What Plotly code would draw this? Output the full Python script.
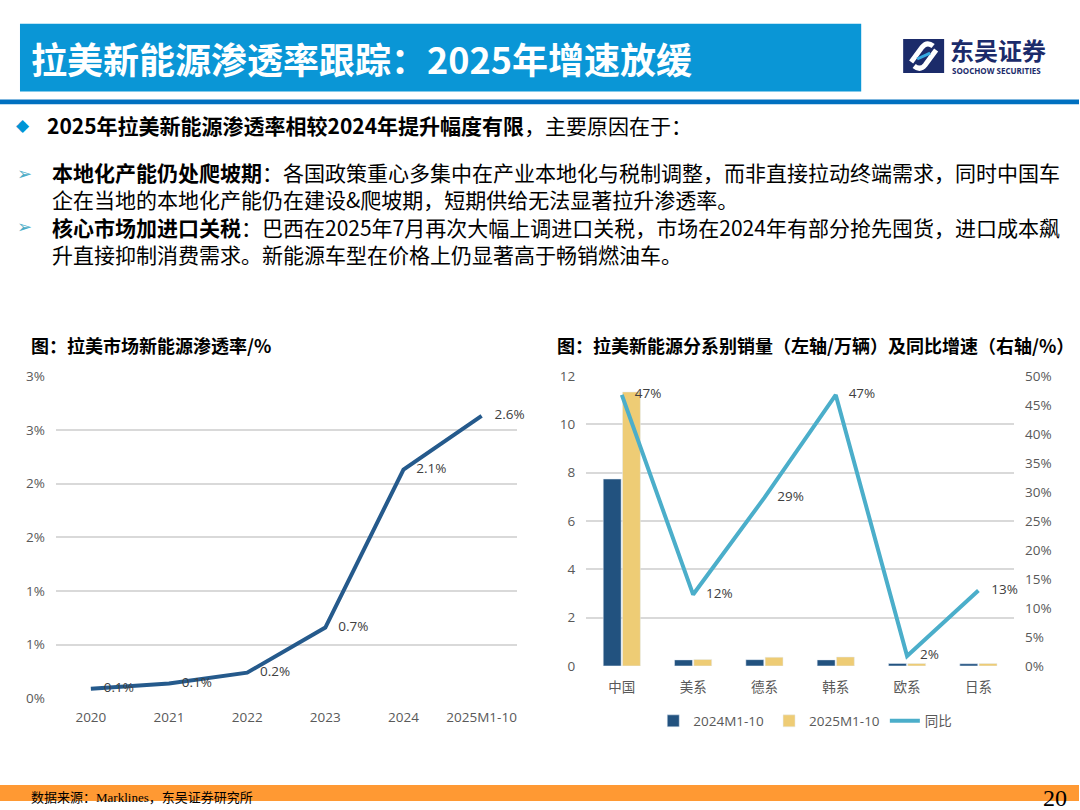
import plotly.graph_objects as go

# left chart: penetration rate (%)
years = ["2020", "2021", "2022", "2023", "2024", "2025M1-10"]
penetration = [0.09, 0.14, 0.24, 0.66, 2.13, 2.63]

# right chart: NEV sales by brand origin (10k units) and yoy growth
brands = ["中国", "美系", "德系", "韩系", "欧系", "日系"]
sales_2024 = [7.73, 0.25, 0.26, 0.25, 0.10, 0.09]
sales_2025 = [11.33, 0.27, 0.36, 0.37, 0.10, 0.10]
yoy = [0.467, 0.123, 0.29, 0.467, 0.017, 0.13]

W, H = 1080, 810
FONT = "Open Sans, Noto Sans CJK SC, sans-serif"
CJK = "Noto Sans CJK SC, sans-serif"
TICK = dict(family=FONT, size=13.5, color="#595959")
LABEL = dict(family=FONT, size=13.5, color="#404040")

# the snapshot pads the page by ~8px top and bottom, so vertical
# positions (given in reference pixels) are stretched back here
Y_PAD, Y_SCALE = 7.85, 810 / 826


def px(x):
    return x / W


def py(y):
    return 1 - ((y - Y_PAD) / Y_SCALE) / H


fig = go.Figure()

fig.add_trace(
    go.Scatter(
        x=years,
        y=penetration,
        mode="lines+markers+text",
        line=dict(color="#255A8C", width=4),
        marker=dict(size=19, color="rgba(0,0,0,0)"),
        texttemplate="%{y:.1f}%",
        textposition="middle right",
        textfont=LABEL,
        cliponaxis=False,
        showlegend=False,
        xaxis="x",
        yaxis="y",
    )
)

fig.add_trace(
    go.Bar(
        x=brands,
        y=sales_2024,
        name="2024M1-10",
        marker_color="#22527F",
        xaxis="x2",
        yaxis="y2",
    )
)
fig.add_trace(
    go.Bar(
        x=brands,
        y=sales_2025,
        name="2025M1-10",
        marker_color="#EECC75",
        xaxis="x2",
        yaxis="y2",
    )
)
fig.add_trace(
    go.Scatter(
        x=brands,
        y=yoy,
        name="同比",
        mode="lines+markers+text",
        line=dict(color="#4BAECA", width=4),
        marker=dict(size=19, color="rgba(0,0,0,0)"),
        texttemplate="%{y:.0%}",
        textposition="middle right",
        textfont=LABEL,
        cliponaxis=False,
        xaxis="x2",
        yaxis="y3",
    )
)

grid = dict(showgrid=True, gridcolor="#D9D9D9", gridwidth=1.5, zeroline=False, showline=False)

fig.update_layout(
    width=W,
    height=H,
    margin=dict(l=0, r=0, t=0, b=0),
    paper_bgcolor="white",
    plot_bgcolor="white",
    font=dict(family=FONT),
    barmode="group",
    bargap=0.46,
    bargroupgap=0.07,
    xaxis=dict(
        domain=[px(56), px(517)],
        anchor="y",
        type="category",
        showgrid=False,
        showline=False,
        tickfont=TICK,
        ticklabelstandoff=9,
    ),
    yaxis=dict(
        domain=[py(699.3), py(376)],
        anchor="x",
        range=[0, 3],
        tick0=0,
        dtick=0.5,
        tickformat=".0f",
        ticksuffix="%",
        tickfont=TICK,
        ticklabelstandoff=10,
        **grid,
    ),
    xaxis2=dict(
        domain=[px(586.7), px(1015)],
        anchor="y2",
        type="category",
        showgrid=False,
        showline=False,
        tickfont=TICK,
        ticklabelstandoff=12,
    ),
    yaxis2=dict(
        domain=[py(666.7), py(375.7)],
        anchor="x2",
        range=[0, 12],
        dtick=2,
        tickfont=TICK,
        ticklabelstandoff=10,
        **grid,
    ),
    yaxis3=dict(
        overlaying="y2",
        anchor="x2",
        side="right",
        range=[0, 0.5],
        dtick=0.05,
        tickformat=".0%",
        showgrid=False,
        zeroline=False,
        tickfont=TICK,
        ticklabelstandoff=10,
    ),
    legend=dict(
        orientation="h",
        x=px(806),
        xanchor="center",
        y=py(722),
        yanchor="middle",
        font=dict(family=FONT, size=13.5, color="#595959"),
        bgcolor="rgba(0,0,0,0)",
    ),
)

# header, divider line, footer
shapes = [
    dict(type="rect", x0=px(20), x1=px(862), y0=py(22.7), y1=py(90.7), fillcolor="#0A96D6", line_width=0),
    dict(type="rect", x0=0, x1=1, y0=py(98.5), y1=py(103.5), fillcolor="#0070C0", line_width=0),
    dict(type="rect", x0=0, x1=1, y0=0, y1=py(786), fillcolor="#FF9933", line_width=0),
    dict(type="rect", x0=px(904), x1=px(945), y0=py(38), y1=py(72), fillcolor="#1B2B6A", line_width=0),
]
# logo mark
hook1 = "M {} {} L {} {} Q {} {} {} {}".format(
    px(912), py(61), px(923), py(46), px(928), py(40), px(934), py(45)
)
hook2 = "M {} {} L {} {} Q {} {} {} {}".format(
    px(937), py(49), px(926), py(64), px(921), py(70), px(915), py(65)
)
for p in (hook1, hook2):
    shapes.append(dict(type="path", path=p, line=dict(color="white", width=5)))
shapes.append(dict(type="line", x0=px(918), y0=py(58), x1=px(931), y1=py(52),
                   line=dict(color="#35A9E1", width=3)))
for s in shapes:
    s["xref"] = "paper"
    s["yref"] = "paper"
fig.update_layout(shapes=shapes)


def note(text, x, y, size, color="black", family=CJK, xanchor="left"):
    fig.add_annotation(
        text=text,
        x=px(x),
        y=py(y),
        xref="paper",
        yref="paper",
        xanchor=xanchor,
        yanchor="middle",
        align="left",
        showarrow=False,
        font=dict(family=family, size=size, color=color),
    )


note("<b>拉美新能源渗透率跟踪：2025年增速放缓</b>", 29, 57, 36, color="white")
note("<b>东吴证券</b>", 949, 48, 24, color="#1B2B6A")
note("<b>SOOCHOW SECURITIES</b>", 951, 70, 8, color="#1B2B6A", family="Open Sans")

note("◆", 14, 124, 17, color="#0096D6", family="DejaVu Sans")
note("<b>2025年拉美新能源渗透率相较2024年提升幅度有限</b>，主要原因在于：", 45, 124, 21)
note("➢", 15, 173, 18, color="#4BACC6", family="DejaVu Sans")
note("➢", 15, 226, 18, color="#4BACC6", family="DejaVu Sans")
note(
    "<b>本地化产能仍处爬坡期</b>：各国政策重心多集中在产业本地化与税制调整，而非直接拉动终端需求，同时中国车"
    "<br>企在当地的本地化产能仍在建设&爬坡期，短期供给无法显著拉升渗透率。"
    "<br><b>核心市场加进口关税</b>：巴西在2025年7月再次大幅上调进口关税，市场在2024年有部分抢先囤货，进口成本飙"
    "<br>升直接抑制消费需求。新能源车型在价格上仍显著高于畅销燃油车。",
    50, 212.5, 21,
)

note("<b>图：拉美市场新能源渗透率/%</b>", 29, 345, 18)
note("<b>图：拉美新能源分系别销量（左轴/万辆）及同比增速（右轴/%）</b>", 556, 345, 18)

note("数据来源：Marklines，东吴证券研究所", 29, 799, 13, family="Liberation Serif, Noto Sans CJK SC")
note("20", 1070, 799, 24, family="Liberation Serif", xanchor="right")

fig.write_html(
    "out.html",
    config={"displayModeBar": False},
    post_script="document.body.style.margin='0';",
)
